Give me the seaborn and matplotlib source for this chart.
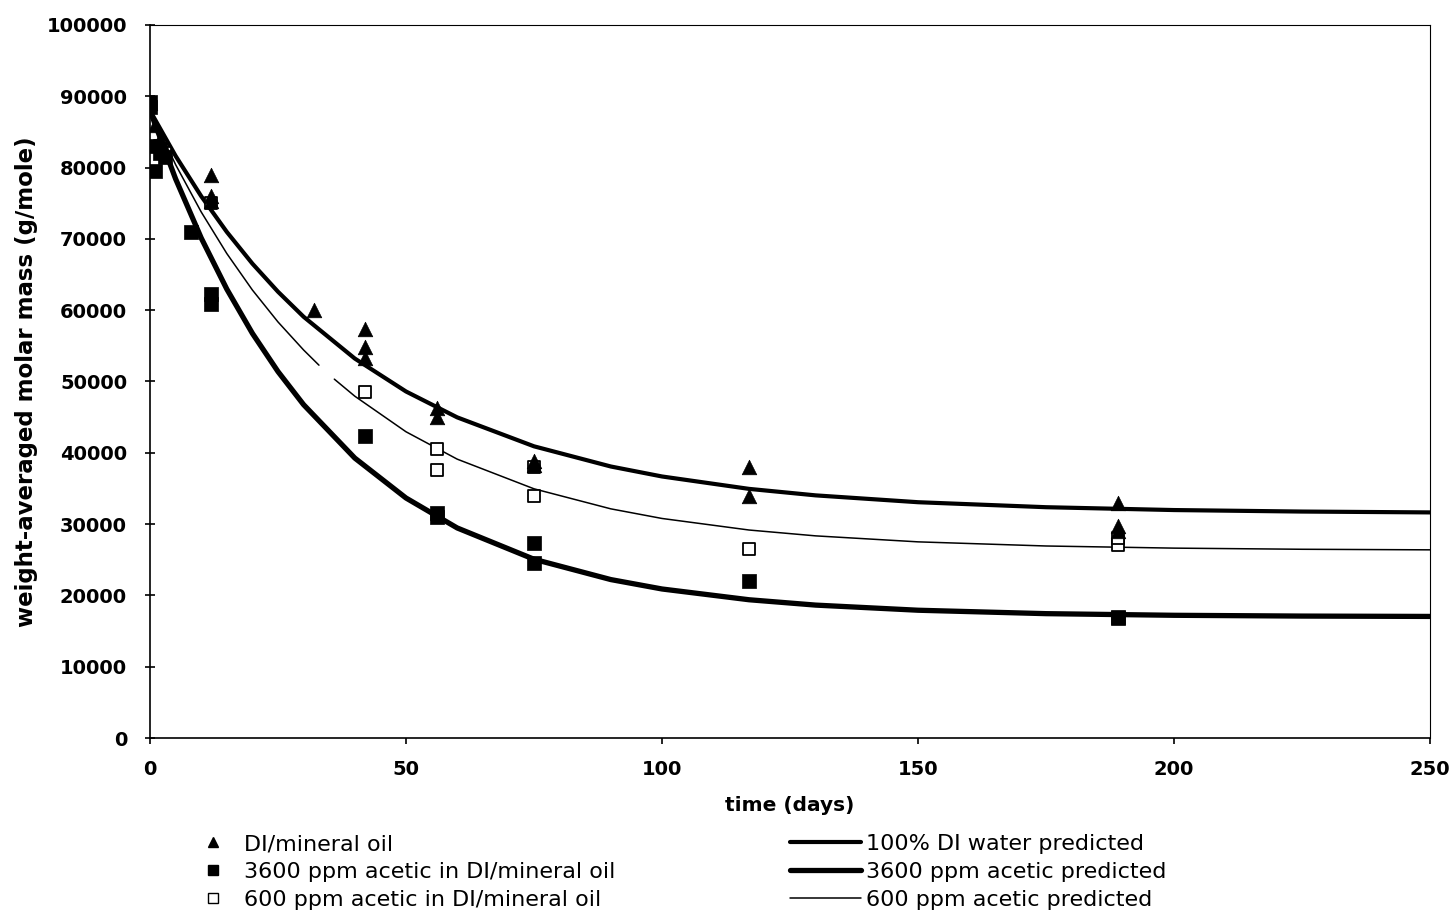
import numpy as np
import pandas as pd
import matplotlib
matplotlib.use("Agg")
import matplotlib.pyplot as plt
import seaborn as sns
from matplotlib.lines import Line2D

di_t = [0, 1, 2, 3, 12, 12, 12, 32, 42, 42, 42, 56, 56, 75, 75, 117, 117, 189, 189, 189]
di_m = [89000, 86000, 84000, 82500, 79000, 76000, 75300, 60000, 57300, 54800, 53300,
        46300, 45000, 38800, 38300, 38000, 34000, 33000, 29800, 29000]

ac3600_t = [0, 0, 1, 1, 2, 3, 8, 12, 12, 42, 56, 56, 75, 75, 117, 189, 189]
ac3600_m = [88500, 89200, 83000, 79500, 82000, 81500, 71000, 62300, 60800, 42300,
            31600, 31000, 27300, 24500, 22000, 16800, 17000]

ac600_t = [0, 2, 3, 12, 42, 56, 56, 75, 75, 117, 189, 189]
ac600_m = [89000, 83000, 82000, 75000, 48500, 40500, 37600, 38000, 34000,
           26500, 27000, 28000]

# ---- predicted curves ----
pred_t = [0, 5, 10, 15, 20, 25, 30, 40, 50, 60, 75, 90, 100, 117, 130, 150, 175, 200, 225, 250]
pred_di = [88000, 81640, 75990, 70980, 66530, 62590, 59080, 53220, 48600, 44970, 40910,
           38080, 36680, 34940, 34030, 33070, 32370, 31970, 31760, 31640]
pred_3600 = [88000, 78420, 70130, 62960, 56750, 51390, 46750, 39260, 33660, 29460, 25070,
             22220, 20900, 19390, 18640, 17920, 17440, 17210, 17100, 17050]
# 600 ppm curve is drawn in two pieces (gap near 33-36 days in the original)
pred600a_t = [0, 5, 10, 15, 20, 25, 30, 33]
pred600a_m = [88000, 80420, 73780, 67950, 62830, 58350, 54420, 52290]
pred600b_t = [36, 40, 50, 60, 75, 90, 100, 117, 130, 150, 175, 200, 225, 250]
pred600b_m = [50330, 47940, 42950, 39110, 34950, 32140, 30790, 29170, 28350, 27510,
              26930, 26630, 26470, 26390]

x_ticks = [0, 50, 100, 150, 200, 250]
y_ticks = list(range(0, 100001, 10000))

sns.set_theme(style="white")
plt.rcParams['font.family'] = ['DejaVu Sans']
plt.rcParams['text.color'] = 'black'
plt.rcParams['axes.labelcolor'] = 'black'
plt.rcParams['xtick.color'] = 'black'
plt.rcParams['ytick.color'] = 'black'

fig = plt.figure(figsize=(14.53, 9.13), dpi=100)
ax = fig.add_axes([150/1453, 1-738/913, 1280/1453, 713/913])

# lines
sns.lineplot(x=pred_t, y=pred_di, ax=ax, color="black", lw=3.0, sort=False, zorder=3)
sns.lineplot(x=pred_t, y=pred_3600, ax=ax, color="black", lw=3.8, sort=False, zorder=3)
sns.lineplot(x=pred600a_t, y=pred600a_m, ax=ax, color="black", lw=1.1, sort=False, zorder=3)
sns.lineplot(x=pred600b_t, y=pred600b_m, ax=ax, color="black", lw=1.1, sort=False, zorder=3)

# points
sns.scatterplot(x=ac600_t, y=ac600_m, ax=ax, marker="s", s=80, facecolor="white", edgecolor="black",
                linewidth=1.3, zorder=4)
sns.scatterplot(x=ac3600_t, y=ac3600_m, ax=ax, marker="s", s=90, color="black", edgecolor="black",
                linewidth=0.5, zorder=5)
sns.scatterplot(x=di_t, y=di_m, ax=ax, marker="^", s=110, color="black", edgecolor="black",
                linewidth=0.5, zorder=6)

ax.set_xlim(0, 250)
ax.set_ylim(0, 100000)
ax.set_xticks(x_ticks)
ax.set_yticks(y_ticks)
ax.set_xticklabels([str(v) for v in x_ticks], fontsize=14, fontweight="bold")
ax.set_yticklabels([str(v) for v in y_ticks], fontsize=14, fontweight="bold")
ax.tick_params(axis="x", direction="out", length=4, width=1.2, color="black",
               bottom=True, pad=12)
ax.tick_params(axis="y", direction="inout", length=7, width=1.2, color="black",
               left=True, pad=13)
for s in ax.spines.values():
    s.set_color("black")
    s.set_linewidth(1.2)
ax.spines["top"].set_linewidth(0.8)
ax.spines["right"].set_linewidth(0.8)
ax.set_xlabel("time (days)", fontsize=14.5, fontweight="bold", labelpad=12)
ax.set_ylabel("weight-averaged molar mass (g/mole)", fontsize=16.5, fontweight="bold", labelpad=6)

left_lab = ["DI/mineral oil", "3600 ppm acetic in DI/mineral oil", "600 ppm acetic in DI/mineral oil"]
right_lab = ["100% DI water predicted", "3600 ppm acetic predicted", "600 ppm acetic predicted"]

lh = [Line2D([], [], ls="none", marker="^", color="black", markersize=7),
      Line2D([], [], ls="none", marker="s", color="black", markersize=7),
      Line2D([], [], ls="none", marker="s", markerfacecolor="white", markeredgecolor="black",
             markersize=7)]
fig.legend(lh, left_lab, loc="upper left", bbox_to_anchor=(202/1453, 1-834/913),
           frameon=False, fontsize=16, handlelength=1.0, handletextpad=0.9,
           labelspacing=0.35, borderaxespad=0, borderpad=0)
rh = [Line2D([], [], color="black", lw=3.0),
      Line2D([], [], color="black", lw=3.8),
      Line2D([], [], color="black", lw=1.1)]
fig.legend(rh, right_lab, loc="upper left", bbox_to_anchor=(790/1453, 1-834/913),
           frameon=False, fontsize=16, handlelength=3.2, handletextpad=0.2,
           labelspacing=0.35, borderaxespad=0, borderpad=0)

fig.savefig("out.png", dpi=100)
